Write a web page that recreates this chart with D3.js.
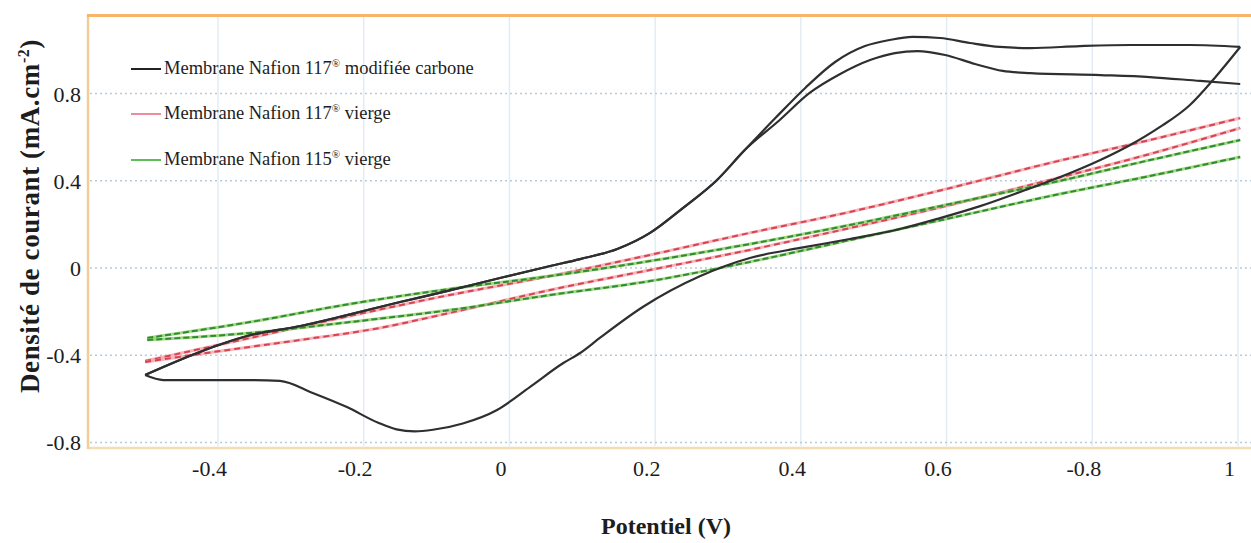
<!DOCTYPE html>
<html><head><meta charset="utf-8">
<script src="https://cdn.jsdelivr.net/npm/d3@7"></script>
<style>body{margin:0;background:#fff}svg text{font-family:"Liberation Serif","Times New Roman",serif;fill:#1d1d1d}</style>
</head><body>
<svg id="c" width="1251" height="543"></svg>
<script>
// ---- data (potential V, current density mA.cm-2) ----
const xTickValues = [-0.4, -0.2, 0, 0.2, 0.4, 0.6, 0.8, 1];
const xTickLabels = ["-0.4", "-0.2", "0", "0.2", "0.4", "0.6", "-0.8", "1"];
const yTickValues = [-0.8, -0.4, 0, 0.4, 0.8];
const yTickLabels = ["-0.8", "-0.4", "0", "0.4", "0.8"];
const seriesNames = ["Membrane Nafion 117", "Membrane Nafion 117", "Membrane Nafion 115"];
const seriesSuffix = [" modifiée carbone", "  vierge", " vierge"];

// carbon-modified membrane: common anodic start, then cycle 1 (outer) / cycle 2 (inner)
const carbonAnodicStart = [[-0.500,-0.491],[-0.475,-0.454],[-0.425,-0.385],[-0.360,-0.312],[-0.287,-0.266],[-0.223,-0.216],[-0.150,-0.156],[-0.086,-0.106],[-0.013,-0.046],[0.056,0.009],[0.097,0.041],[0.148,0.087],[0.193,0.161],[0.238,0.275],[0.285,0.404],[0.323,0.541]];
const carbonAnodic1 = [[0.323,0.541],[0.365,0.688],[0.406,0.826],[0.447,0.945],[0.488,1.018],[0.522,1.046],[0.553,1.060],[0.591,1.055],[0.632,1.032],[0.673,1.014],[0.715,1.009],[0.783,1.018],[0.852,1.023],[0.934,1.023],[1.003,1.014]];
const carbonCathodic = [[1.003,1.014],[0.968,0.872],[0.934,0.748],[0.893,0.647],[0.852,0.564],[0.811,0.495],[0.756,0.417],[0.701,0.349],[0.646,0.284],[0.591,0.229],[0.536,0.179],[0.467,0.133],[0.399,0.092],[0.330,0.046],[0.262,-0.037],[0.183,-0.179],[0.124,-0.321],[0.097,-0.390],[0.074,-0.436],[0.028,-0.546],[-0.017,-0.651],[-0.064,-0.713],[-0.105,-0.742],[-0.130,-0.749],[-0.155,-0.740],[-0.180,-0.710],[-0.223,-0.638],[-0.270,-0.573],[-0.315,-0.518],[-0.356,-0.514],[-0.475,-0.514],[-0.500,-0.491]];
const carbonAnodic2 = [[0.323,0.541],[0.371,0.679],[0.412,0.803],[0.454,0.890],[0.495,0.954],[0.529,0.986],[0.560,0.995],[0.598,0.977],[0.639,0.936],[0.677,0.904],[0.715,0.894],[0.811,0.885],[0.879,0.876],[0.948,0.858],[1.003,0.844]];

// virgin Nafion 117
const n117Anodic = [[-0.500,-0.427],[-0.356,-0.321],[-0.219,-0.220],[-0.082,-0.124],[0.056,-0.037],[0.193,0.060],[0.330,0.161],[0.467,0.257],[0.605,0.367],[0.742,0.482],[0.879,0.587],[1.003,0.688]];
const n117Cathodic = [[1.003,0.642],[0.879,0.523],[0.742,0.404],[0.605,0.289],[0.467,0.183],[0.330,0.083],[0.193,-0.009],[0.056,-0.101],[-0.082,-0.206],[-0.178,-0.275],[-0.287,-0.330],[-0.356,-0.362],[-0.425,-0.394],[-0.500,-0.431]];

// virgin Nafion 115
const n115Anodic = [[-0.497,-0.321],[-0.356,-0.248],[-0.219,-0.165],[-0.082,-0.096],[0.056,-0.037],[0.193,0.032],[0.330,0.110],[0.467,0.197],[0.605,0.294],[0.742,0.390],[0.879,0.495],[1.003,0.587]];
const n115Cathodic = [[1.003,0.509],[0.879,0.422],[0.742,0.330],[0.605,0.229],[0.467,0.128],[0.330,0.028],[0.193,-0.060],[0.056,-0.124],[-0.082,-0.193],[-0.219,-0.248],[-0.356,-0.298],[-0.497,-0.330]];

// ---- drawing ----
const svg = d3.select("#c");
const x = d3.scaleLinear().domain([-0.5784, 1.0178]).range([88, 1251]);
const y = d3.scaleLinear().domain([-0.8257, 1.1606]).range([448, 15]);

// grid
svg.append("g").selectAll("line").data(xTickValues).join("line")
  .attr("x1", d => x(d)).attr("x2", d => x(d)).attr("y1", 17).attr("y2", 446)
  .attr("stroke", "#e3ecf4").attr("stroke-width", 1.5);
svg.append("g").selectAll("line").data(yTickValues).join("line")
  .attr("x1", 90).attr("x2", 1251).attr("y1", d => y(d)).attr("y2", d => y(d))
  .attr("stroke", "#b9cad9").attr("stroke-width", 1.5).attr("stroke-dasharray", "2,3");

// frame
svg.append("line").attr("x1", 88).attr("x2", 1251).attr("y1", 448).attr("y2", 448).attr("stroke", "#f4dcb4").attr("stroke-width", 2.5);
svg.append("line").attr("x1", 88).attr("x2", 88).attr("y1", 15).attr("y2", 449).attr("stroke", "#f2cd97").attr("stroke-width", 2.5);
svg.append("line").attr("x1", 87).attr("x2", 1251).attr("y1", 15.5).attr("y2", 15.5).attr("stroke", "#f8b469").attr("stroke-width", 3);

// axes
const xAxis = d3.axisBottom(x).tickValues(xTickValues).tickSize(0).tickFormat((d, i) => xTickLabels[i]);
const gx = svg.append("g").attr("transform", "translate(0,452)").call(xAxis);
gx.select(".domain").remove();
gx.selectAll("text").attr("dy", "0.71em").attr("dx", -9).attr("y", 8)
  .style("font-size", "22px").style("font-family", "Liberation Serif").attr("fill", "#1d1d1d");

const yAxis = d3.axisLeft(y).tickValues(yTickValues).tickSize(0).tickFormat((d, i) => yTickLabels[i]);
const gy = svg.append("g").attr("transform", "translate(81,0)").call(yAxis);
gy.select(".domain").remove();
gy.selectAll("text").attr("x", 0).attr("dy", "0.34em")
  .style("font-size", "22px").style("font-family", "Liberation Serif").attr("fill", "#1d1d1d");

// curves (each scan branch is monotone in potential)
const line = d3.line().x(d => x(d[0])).y(d => y(d[1])).curve(d3.curveMonotoneX);
const sorted = d => d.slice().sort((a, b) => a[0] - b[0]);
function draw(data, base, top, dash) {
  svg.append("path").datum(sorted(data)).attr("d", line).attr("fill", "none")
    .attr("stroke", base).attr("stroke-width", 3).attr("stroke-opacity", 0.8);
  svg.append("path").datum(sorted(data)).attr("d", line).attr("fill", "none")
    .attr("stroke", top).attr("stroke-width", 2).attr("stroke-dasharray", dash);
}
[n117Anodic, n117Cathodic].forEach(d => draw(d, "#f3a3ad", "#d9434f", "6,4"));
[n115Anodic, n115Cathodic].forEach(d => draw(d, "#8fcf5f", "#2e8b3a", "6,3"));
[carbonAnodicStart.concat(carbonAnodic1.slice(1)), carbonCathodic, carbonAnodicStart.concat(carbonAnodic2.slice(1))]
  .forEach(d => svg.append("path").datum(sorted(d)).attr("d", line).attr("fill", "none")
    .attr("stroke", "#2f2f2f").attr("stroke-width", 2.2));

// legend
const legColors = ["#222", "#ee8c9c", "#5cbf55"];
const legY = [68, 113, 159];
seriesNames.forEach((n, i) => {
  svg.append("line").attr("x1", 131).attr("x2", 161).attr("y1", legY[i] + 1).attr("y2", legY[i] + 1)
    .attr("stroke", legColors[i]).attr("stroke-width", 2);
  const t = svg.append("text").attr("x", 164).attr("y", legY[i] + 6).style("font-size", "18.5px");
  t.append("tspan").text(n);
  t.append("tspan").attr("dy", -7).style("font-size", "11px").text("®");
  t.append("tspan").attr("dy", 7).text(seriesSuffix[i]);
});

// axis titles
svg.append("text").attr("x", 666).attr("y", 534).attr("text-anchor", "middle")
  .style("font-size", "24px").style("font-weight", "bold").text("Potentiel (V)");
const yt = svg.append("text").attr("transform", "translate(39,216) rotate(-90)").attr("text-anchor", "middle")
  .style("font-size", "27px").style("font-weight", "bold").style("letter-spacing", "0.6px");
yt.append("tspan").text("Densité de courant (mA.cm");
yt.append("tspan").attr("dy", -10).style("font-size", "16px").text("-2");
yt.append("tspan").attr("dy", 10).text(")");
</script>
</body></html>
